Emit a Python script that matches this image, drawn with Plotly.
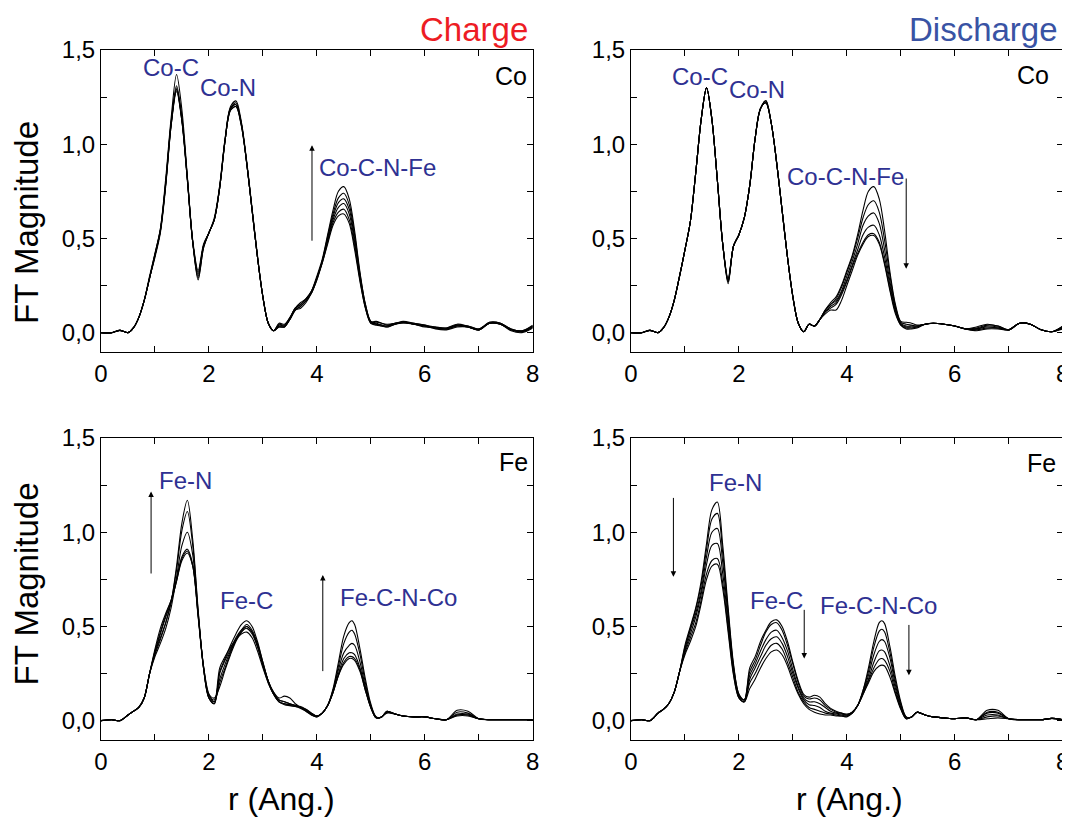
import plotly.graph_objects as go
from plotly.subplots import make_subplots

# ---------------- data ----------------
R_CO = [0.0, 0.2, 0.35, 0.5, 0.6, 0.7, 0.8, 0.9, 1.0, 1.1,
        1.2, 1.3, 1.4, 1.5, 1.6, 1.7, 1.8, 1.9, 2.0, 2.1,
        2.2, 2.3, 2.4, 2.5, 2.6, 2.7, 2.8, 2.9, 3.0, 3.1,
        3.2, 3.3, 3.4, 3.5, 3.6, 3.7, 3.8, 3.9, 4.0, 4.1,
        4.2, 4.3, 4.4, 4.5, 4.6, 4.7, 4.8, 4.9, 5.0, 5.1,
        5.2, 5.3, 5.45, 5.6, 5.8, 6.0, 6.2, 6.4, 6.6, 6.8, 7.0, 7.2, 7.4, 7.6, 7.8, 8.0]
R_FE = [0.0, 0.2, 0.35, 0.5, 0.6, 0.7, 0.8, 0.9, 1.0, 1.1,
        1.2, 1.3, 1.4, 1.5, 1.6, 1.7, 1.8, 1.9, 2.0, 2.1,
        2.2, 2.3, 2.4, 2.5, 2.6, 2.7, 2.8, 2.9, 3.0, 3.1,
        3.2, 3.3, 3.4, 3.5, 3.6, 3.7, 3.8, 3.9, 4.0, 4.1,
        4.2, 4.3, 4.4, 4.5, 4.6, 4.65, 4.7, 4.8, 4.9, 5.0, 5.1,
        5.2, 5.3, 5.45, 5.6, 5.8, 6.0, 6.2, 6.4, 6.6, 6.8, 7.0, 7.2, 7.4, 7.6, 7.8, 8.0]

# Co K-edge, charge
co_charge_1 = [0.0, 0.0, 0.012, 0.0, 0.025, 0.08, 0.17, 0.29, 0.40, 0.53,
               0.78, 1.10, 1.28, 1.12, 0.81, 0.48, 0.31, 0.46, 0.53, 0.60,
               0.77, 1.02, 1.18, 1.20, 1.10, 0.90, 0.65, 0.40, 0.19, 0.05,
               0.01, 0.035, 0.035, 0.07, 0.12, 0.14, 0.17, 0.21, 0.28, 0.37,
               0.47, 0.57, 0.62, 0.63, 0.58, 0.44, 0.27, 0.13, 0.05, 0.04,
               0.035, 0.03, 0.045, 0.055, 0.045, 0.035, 0.025, 0.02, 0.035, 0.03, 0.015, 0.05, 0.045, 0.015, 0.005, 0.03]
co_charge_2 = [0.0, 0.0, 0.012, 0.0, 0.025, 0.08, 0.17, 0.29, 0.41, 0.54,
               0.79, 1.10, 1.29, 1.12, 0.81, 0.48, 0.29, 0.45, 0.53, 0.60,
               0.77, 1.02, 1.18, 1.20, 1.10, 0.90, 0.65, 0.40, 0.19, 0.05,
               0.01, 0.03, 0.03, 0.075, 0.13, 0.15, 0.18, 0.22, 0.29, 0.37,
               0.48, 0.585, 0.64, 0.655, 0.60, 0.46, 0.28, 0.13, 0.05, 0.05,
               0.04, 0.035, 0.05, 0.055, 0.045, 0.035, 0.02, 0.015, 0.03, 0.03, 0.015, 0.05, 0.045, 0.01, 0.0, 0.025]
co_charge_3 = [0.0, 0.0, 0.012, 0.0, 0.025, 0.08, 0.17, 0.30, 0.42, 0.55,
               0.80, 1.11, 1.29, 1.13, 0.82, 0.49, 0.33, 0.47, 0.53, 0.61,
               0.78, 1.03, 1.19, 1.21, 1.11, 0.90, 0.65, 0.40, 0.19, 0.05,
               0.01, 0.04, 0.035, 0.07, 0.12, 0.13, 0.16, 0.21, 0.28, 0.38,
               0.49, 0.60, 0.665, 0.685, 0.63, 0.48, 0.29, 0.14, 0.055, 0.045,
               0.04, 0.03, 0.045, 0.05, 0.045, 0.03, 0.025, 0.02, 0.04, 0.03, 0.015, 0.05, 0.045, 0.015, 0.005, 0.03]
co_charge_4 = [0.0, 0.0, 0.012, 0.0, 0.025, 0.08, 0.17, 0.29, 0.41, 0.54,
               0.79, 1.11, 1.30, 1.13, 0.82, 0.48, 0.30, 0.46, 0.53, 0.60,
               0.77, 1.02, 1.19, 1.21, 1.11, 0.90, 0.65, 0.40, 0.19, 0.05,
               0.01, 0.045, 0.04, 0.08, 0.13, 0.15, 0.18, 0.22, 0.29, 0.38,
               0.50, 0.615, 0.69, 0.71, 0.655, 0.50, 0.30, 0.14, 0.055, 0.055,
               0.05, 0.04, 0.05, 0.055, 0.045, 0.035, 0.03, 0.025, 0.04, 0.035, 0.02, 0.05, 0.05, 0.02, 0.01, 0.035]
co_charge_5 = [0.0, 0.0, 0.012, 0.0, 0.025, 0.08, 0.17, 0.29, 0.41, 0.54,
               0.80, 1.12, 1.31, 1.14, 0.82, 0.48, 0.32, 0.46, 0.53, 0.60,
               0.77, 1.02, 1.19, 1.22, 1.11, 0.90, 0.65, 0.40, 0.19, 0.05,
               0.01, 0.03, 0.03, 0.07, 0.12, 0.14, 0.17, 0.21, 0.29, 0.38,
               0.51, 0.63, 0.715, 0.74, 0.68, 0.52, 0.31, 0.15, 0.06, 0.045,
               0.035, 0.035, 0.045, 0.055, 0.05, 0.04, 0.025, 0.02, 0.035, 0.03, 0.015, 0.055, 0.05, 0.015, 0.005, 0.035]
co_charge_6 = [0.0, 0.0, 0.012, 0.0, 0.025, 0.08, 0.17, 0.29, 0.42, 0.55,
               0.82, 1.14, 1.37, 1.18, 0.83, 0.48, 0.28, 0.45, 0.53, 0.60,
               0.78, 1.03, 1.20, 1.23, 1.12, 0.91, 0.66, 0.41, 0.19, 0.05,
               0.01, 0.05, 0.045, 0.08, 0.13, 0.16, 0.18, 0.22, 0.30, 0.39,
               0.52, 0.65, 0.75, 0.775, 0.71, 0.54, 0.32, 0.15, 0.06, 0.06,
               0.05, 0.045, 0.05, 0.06, 0.05, 0.04, 0.03, 0.025, 0.045, 0.035, 0.02, 0.055, 0.05, 0.02, 0.01, 0.04]

# Co K-edge, discharge
co_discharge_1 = [0.0, 0.0, 0.012, 0.0, 0.025, 0.08, 0.17, 0.30, 0.44, 0.59,
                  0.85, 1.13, 1.30, 1.13, 0.81, 0.47, 0.27, 0.46, 0.52, 0.61,
                  0.78, 1.03, 1.19, 1.22, 1.11, 0.90, 0.65, 0.40, 0.19, 0.05,
                  0.005, 0.045, 0.035, 0.07, 0.10, 0.12, 0.12, 0.17, 0.25, 0.33,
                  0.41, 0.47, 0.51, 0.515, 0.47, 0.36, 0.22, 0.10, 0.04, 0.02,
                  0.02, 0.025, 0.045, 0.05, 0.045, 0.035, 0.02, 0.01, 0.02, 0.02, 0.015, 0.05, 0.045, 0.015, 0.005, 0.02]
co_discharge_2 = [0.0, 0.0, 0.012, 0.0, 0.025, 0.08, 0.17, 0.30, 0.44, 0.59,
                  0.85, 1.13, 1.30, 1.13, 0.81, 0.47, 0.28, 0.46, 0.52, 0.61,
                  0.78, 1.03, 1.19, 1.22, 1.11, 0.90, 0.65, 0.40, 0.19, 0.05,
                  0.005, 0.045, 0.035, 0.07, 0.11, 0.13, 0.15, 0.20, 0.27, 0.35,
                  0.42, 0.48, 0.52, 0.525, 0.48, 0.37, 0.23, 0.11, 0.04, 0.025,
                  0.025, 0.03, 0.045, 0.05, 0.045, 0.035, 0.02, 0.015, 0.025, 0.025, 0.015, 0.05, 0.045, 0.015, 0.005, 0.025]
co_discharge_3 = [0.0, 0.0, 0.012, 0.0, 0.025, 0.08, 0.17, 0.30, 0.44, 0.59,
                  0.85, 1.13, 1.30, 1.13, 0.81, 0.47, 0.26, 0.46, 0.52, 0.61,
                  0.78, 1.03, 1.19, 1.22, 1.11, 0.90, 0.65, 0.40, 0.19, 0.05,
                  0.005, 0.045, 0.035, 0.07, 0.11, 0.14, 0.16, 0.21, 0.28, 0.36,
                  0.44, 0.52, 0.56, 0.57, 0.52, 0.40, 0.25, 0.12, 0.045, 0.03,
                  0.03, 0.03, 0.045, 0.05, 0.045, 0.035, 0.02, 0.02, 0.03, 0.025, 0.015, 0.05, 0.045, 0.015, 0.005, 0.03]
co_discharge_4 = [0.0, 0.0, 0.012, 0.0, 0.025, 0.08, 0.17, 0.30, 0.44, 0.59,
                  0.85, 1.13, 1.30, 1.13, 0.81, 0.47, 0.29, 0.46, 0.52, 0.61,
                  0.78, 1.03, 1.19, 1.23, 1.11, 0.90, 0.65, 0.40, 0.19, 0.05,
                  0.005, 0.045, 0.035, 0.07, 0.12, 0.15, 0.17, 0.22, 0.30, 0.38,
                  0.47, 0.57, 0.62, 0.635, 0.58, 0.44, 0.27, 0.13, 0.05, 0.035,
                  0.035, 0.035, 0.045, 0.05, 0.045, 0.035, 0.02, 0.02, 0.035, 0.03, 0.015, 0.05, 0.045, 0.015, 0.005, 0.03]
co_discharge_5 = [0.0, 0.0, 0.012, 0.0, 0.025, 0.08, 0.17, 0.30, 0.44, 0.59,
                  0.85, 1.13, 1.30, 1.13, 0.81, 0.47, 0.28, 0.46, 0.52, 0.61,
                  0.78, 1.03, 1.19, 1.22, 1.11, 0.90, 0.65, 0.40, 0.19, 0.05,
                  0.005, 0.045, 0.035, 0.07, 0.12, 0.15, 0.18, 0.24, 0.32, 0.40,
                  0.50, 0.61, 0.68, 0.70, 0.64, 0.49, 0.30, 0.14, 0.055, 0.045,
                  0.04, 0.035, 0.045, 0.05, 0.045, 0.035, 0.02, 0.025, 0.04, 0.035, 0.015, 0.05, 0.045, 0.015, 0.005, 0.035]
co_discharge_6 = [0.0, 0.0, 0.012, 0.0, 0.025, 0.08, 0.17, 0.30, 0.44, 0.59,
                  0.85, 1.13, 1.30, 1.13, 0.81, 0.47, 0.27, 0.46, 0.52, 0.61,
                  0.78, 1.03, 1.19, 1.23, 1.11, 0.90, 0.65, 0.40, 0.19, 0.05,
                  0.005, 0.045, 0.035, 0.07, 0.12, 0.16, 0.19, 0.25, 0.33, 0.41,
                  0.52, 0.65, 0.75, 0.775, 0.71, 0.54, 0.32, 0.15, 0.06, 0.055,
                  0.05, 0.04, 0.045, 0.05, 0.045, 0.035, 0.02, 0.03, 0.045, 0.035, 0.015, 0.05, 0.045, 0.015, 0.005, 0.035]

# Fe K-edge, charge
fe_charge_1 = [0.0, 0.005, 0.0, 0.03, 0.05, 0.07, 0.12, 0.25, 0.38, 0.49,
               0.57, 0.64, 0.74, 0.85, 0.89, 0.82, 0.56, 0.29, 0.14, 0.10,
               0.28, 0.34, 0.39, 0.43, 0.46, 0.47, 0.44, 0.37, 0.28, 0.20,
               0.14, 0.11, 0.10, 0.09, 0.08, 0.07, 0.055, 0.035, 0.025, 0.04,
               0.08, 0.15, 0.24, 0.30, 0.33, 0.33, 0.32, 0.26, 0.16, 0.07, 0.015,
               0.02, 0.04, 0.035, 0.025, 0.02, 0.02, 0.01, 0.005, 0.025, 0.025, 0.01, 0.005, 0.005, 0.005, 0.005, 0.005]
fe_charge_2 = [0.0, 0.005, 0.0, 0.03, 0.05, 0.07, 0.12, 0.25, 0.36, 0.46,
               0.55, 0.63, 0.74, 0.86, 0.90, 0.82, 0.55, 0.28, 0.13, 0.11,
               0.22, 0.30, 0.37, 0.43, 0.47, 0.49, 0.46, 0.39, 0.29, 0.20,
               0.14, 0.10, 0.09, 0.085, 0.08, 0.07, 0.06, 0.04, 0.025, 0.04,
               0.08, 0.15, 0.24, 0.31, 0.34, 0.34, 0.33, 0.27, 0.16, 0.07, 0.015,
               0.02, 0.045, 0.035, 0.025, 0.02, 0.02, 0.01, 0.005, 0.03, 0.03, 0.01, 0.005, 0.005, 0.005, 0.005, 0.005]
fe_charge_3 = [0.0, 0.005, 0.0, 0.03, 0.05, 0.07, 0.12, 0.25, 0.37, 0.47,
               0.56, 0.64, 0.75, 0.87, 0.91, 0.83, 0.56, 0.29, 0.14, 0.12,
               0.18, 0.27, 0.35, 0.42, 0.47, 0.50, 0.47, 0.40, 0.30, 0.21,
               0.14, 0.10, 0.09, 0.08, 0.075, 0.07, 0.055, 0.035, 0.025, 0.04,
               0.08, 0.15, 0.25, 0.33, 0.36, 0.36, 0.35, 0.28, 0.17, 0.07, 0.015,
               0.02, 0.045, 0.035, 0.025, 0.02, 0.02, 0.01, 0.005, 0.03, 0.03, 0.01, 0.005, 0.005, 0.005, 0.005, 0.005]
fe_charge_4 = [0.0, 0.005, 0.0, 0.03, 0.05, 0.07, 0.12, 0.25, 0.34, 0.41,
               0.49, 0.60, 0.76, 0.93, 1.00, 0.88, 0.57, 0.28, 0.12, 0.09,
               0.25, 0.32, 0.38, 0.44, 0.48, 0.50, 0.47, 0.40, 0.30, 0.21,
               0.15, 0.12, 0.13, 0.12, 0.09, 0.07, 0.05, 0.03, 0.02, 0.04,
               0.08, 0.16, 0.27, 0.36, 0.40, 0.41, 0.40, 0.31, 0.18, 0.08, 0.015,
               0.02, 0.05, 0.035, 0.025, 0.02, 0.02, 0.01, 0.005, 0.035, 0.035, 0.01, 0.005, 0.005, 0.005, 0.005, 0.005]
fe_charge_5 = [0.0, 0.005, 0.0, 0.03, 0.05, 0.07, 0.12, 0.25, 0.36, 0.44,
               0.52, 0.63, 0.80, 1.01, 1.11, 0.93, 0.58, 0.28, 0.12, 0.10,
               0.20, 0.28, 0.36, 0.43, 0.48, 0.51, 0.48, 0.41, 0.31, 0.21,
               0.15, 0.11, 0.10, 0.09, 0.08, 0.075, 0.06, 0.04, 0.025, 0.04,
               0.08, 0.16, 0.29, 0.41, 0.47, 0.48, 0.46, 0.35, 0.20, 0.08, 0.02,
               0.02, 0.05, 0.035, 0.025, 0.02, 0.02, 0.01, 0.005, 0.045, 0.04, 0.01, 0.005, 0.005, 0.005, 0.005, 0.005]
fe_charge_6 = [0.0, 0.005, 0.0, 0.03, 0.05, 0.07, 0.12, 0.25, 0.35, 0.43,
               0.52, 0.63, 0.82, 1.05, 1.17, 0.96, 0.59, 0.28, 0.12, 0.09,
               0.26, 0.33, 0.40, 0.46, 0.51, 0.53, 0.50, 0.42, 0.31, 0.21,
               0.14, 0.10, 0.085, 0.08, 0.075, 0.065, 0.05, 0.03, 0.02, 0.04,
               0.08, 0.17, 0.31, 0.45, 0.52, 0.53, 0.51, 0.38, 0.22, 0.09, 0.02,
               0.02, 0.05, 0.035, 0.025, 0.02, 0.02, 0.01, 0.005, 0.055, 0.05, 0.01, 0.005, 0.005, 0.005, 0.005, 0.005]

# Fe K-edge, discharge
fe_discharge_1 = [0.0, 0.005, 0.0, 0.04, 0.06, 0.09, 0.15, 0.26, 0.35, 0.42,
                  0.50, 0.62, 0.75, 0.82, 0.83, 0.70, 0.47, 0.24, 0.12, 0.10,
                  0.17, 0.22, 0.28, 0.33, 0.365, 0.375, 0.35, 0.29, 0.21, 0.14,
                  0.09, 0.06, 0.045, 0.035, 0.03, 0.03, 0.025, 0.025, 0.02, 0.04,
                  0.08, 0.14, 0.20, 0.26, 0.29, 0.295, 0.29, 0.23, 0.14, 0.06, 0.01,
                  0.02, 0.045, 0.03, 0.02, 0.015, 0.01, 0.015, 0.005, 0.01, 0.015, 0.01, 0.005, 0.005, 0.005, 0.012, 0.005]
fe_discharge_2 = [0.0, 0.005, 0.0, 0.04, 0.06, 0.09, 0.15, 0.26, 0.36, 0.44,
                  0.52, 0.64, 0.78, 0.85, 0.86, 0.73, 0.49, 0.25, 0.12, 0.10,
                  0.20, 0.25, 0.31, 0.36, 0.40, 0.41, 0.38, 0.31, 0.23, 0.15,
                  0.10, 0.07, 0.06, 0.05, 0.04, 0.035, 0.03, 0.025, 0.025, 0.04,
                  0.08, 0.14, 0.21, 0.28, 0.325, 0.33, 0.32, 0.26, 0.15, 0.065, 0.01,
                  0.02, 0.045, 0.03, 0.02, 0.015, 0.01, 0.015, 0.005, 0.02, 0.025, 0.01, 0.005, 0.005, 0.005, 0.012, 0.005]
fe_discharge_3 = [0.0, 0.005, 0.0, 0.04, 0.06, 0.09, 0.15, 0.26, 0.37, 0.46,
                  0.55, 0.67, 0.83, 0.93, 0.94, 0.78, 0.52, 0.27, 0.13, 0.10,
                  0.22, 0.28, 0.34, 0.40, 0.435, 0.445, 0.41, 0.34, 0.25, 0.17,
                  0.11, 0.085, 0.08, 0.07, 0.05, 0.04, 0.035, 0.03, 0.025, 0.04,
                  0.08, 0.15, 0.22, 0.31, 0.37, 0.375, 0.365, 0.29, 0.17, 0.07, 0.015,
                  0.02, 0.045, 0.03, 0.02, 0.015, 0.01, 0.015, 0.005, 0.03, 0.03, 0.01, 0.005, 0.005, 0.005, 0.012, 0.005]
fe_discharge_4 = [0.0, 0.005, 0.0, 0.04, 0.06, 0.09, 0.15, 0.26, 0.38, 0.48,
                  0.57, 0.69, 0.87, 1.00, 1.02, 0.84, 0.55, 0.28, 0.13, 0.11,
                  0.24, 0.30, 0.37, 0.43, 0.47, 0.48, 0.44, 0.37, 0.27, 0.18,
                  0.12, 0.10, 0.10, 0.09, 0.07, 0.05, 0.04, 0.035, 0.03, 0.045,
                  0.08, 0.15, 0.24, 0.35, 0.42, 0.43, 0.42, 0.33, 0.19, 0.08, 0.015,
                  0.02, 0.045, 0.03, 0.02, 0.015, 0.01, 0.015, 0.005, 0.04, 0.04, 0.01, 0.005, 0.005, 0.005, 0.012, 0.005]
fe_discharge_5 = [0.0, 0.005, 0.0, 0.04, 0.06, 0.09, 0.15, 0.26, 0.39, 0.49,
                  0.59, 0.72, 0.91, 1.07, 1.10, 0.89, 0.58, 0.29, 0.14, 0.11,
                  0.26, 0.32, 0.40, 0.47, 0.51, 0.52, 0.48, 0.40, 0.30, 0.20,
                  0.13, 0.115, 0.12, 0.11, 0.08, 0.06, 0.045, 0.04, 0.03, 0.045,
                  0.08, 0.16, 0.26, 0.39, 0.475, 0.485, 0.47, 0.36, 0.21, 0.09, 0.02,
                  0.02, 0.045, 0.03, 0.02, 0.015, 0.01, 0.015, 0.005, 0.045, 0.045, 0.01, 0.005, 0.005, 0.005, 0.012, 0.005]
fe_discharge_6 = [0.0, 0.005, 0.0, 0.04, 0.06, 0.09, 0.15, 0.26, 0.40, 0.50,
                  0.60, 0.74, 0.94, 1.12, 1.16, 0.93, 0.60, 0.30, 0.14, 0.11,
                  0.28, 0.34, 0.42, 0.48, 0.525, 0.535, 0.50, 0.42, 0.31, 0.21,
                  0.14, 0.125, 0.135, 0.125, 0.09, 0.065, 0.05, 0.04, 0.035, 0.045,
                  0.08, 0.16, 0.28, 0.42, 0.52, 0.53, 0.515, 0.39, 0.23, 0.10, 0.02,
                  0.02, 0.045, 0.03, 0.02, 0.015, 0.01, 0.015, 0.005, 0.055, 0.055, 0.01, 0.005, 0.005, 0.005, 0.012, 0.005]

X_TICKS = [0, 2, 4, 6, 8]
Y_TICKS = [0.0, 0.5, 1.0, 1.5]

# ---------------- figure ----------------
FONT = "Arial, 'Liberation Sans', sans-serif"
LABEL_BLUE = "#2e3192"
W, H = 1062, 810          # page has an 8 px body margin
OFF = 8

def px(p):   # page x pixel -> paper x
    return (p - OFF) / W

def py(p):   # page y pixel -> paper y
    return 1 - (p - OFF) / H

fig = make_subplots(rows=2, cols=2)

panels = [
    (1, 1, R_CO, [co_charge_1, co_charge_2, co_charge_3, co_charge_4, co_charge_5, co_charge_6]),
    (1, 2, R_CO, [co_discharge_1, co_discharge_2, co_discharge_3, co_discharge_4, co_discharge_5, co_discharge_6]),
    (2, 1, R_FE, [fe_charge_1, fe_charge_2, fe_charge_3, fe_charge_4, fe_charge_5, fe_charge_6]),
    (2, 2, R_FE, [fe_discharge_1, fe_discharge_2, fe_discharge_3, fe_discharge_4, fe_discharge_5, fe_discharge_6]),
]
for row, col, rr, curves in panels:
    for c in curves:
        fig.add_trace(go.Scatter(x=rr, y=c, mode="lines",
                                 line=dict(color="black", width=1.1, shape="spline", smoothing=0.9),
                                 showlegend=False, hoverinfo="skip"),
                      row=row, col=col)

xdom = [[px(101), px(532.7)], [px(631), px(1062.7)]]
ydom_top = [py(351.7), py(50)]
ydom_bot = [py(739.7), py(438)]

common = dict(showline=True, linecolor="black", linewidth=1, mirror="ticks",
              ticks="inside", ticklen=6, tickwidth=1, tickcolor="black",
              showgrid=False, zeroline=False, automargin=False,
              tickfont=dict(family=FONT, size=24, color="black"))

xa = dict(common, range=[0, 8], tickvals=X_TICKS, ticktext=[str(v) for v in X_TICKS],
          minor=dict(tickvals=[1, 3, 5, 7], ticks="inside", ticklen=6, tickcolor="black", tickwidth=1, showgrid=False))
ya = dict(common, range=[-0.101, 1.5], tickvals=Y_TICKS, ticktext=[f"{v:.1f}".replace(".", ",") for v in Y_TICKS],
          minor=dict(tickvals=[0.25, 0.75, 1.25], ticks="inside", ticklen=6, tickcolor="black", tickwidth=1, showgrid=False))

fig.update_layout(
    width=W, height=H, autosize=False,
    margin=dict(l=0, r=0, t=0, b=0, pad=0, autoexpand=False),
    paper_bgcolor="white", plot_bgcolor="white",
    showlegend=False,
    xaxis=dict(xa, domain=xdom[0], anchor="y"),
    yaxis=dict(ya, domain=ydom_top, anchor="x"),
    xaxis2=dict(xa, domain=xdom[1], anchor="y2"),
    yaxis2=dict(ya, domain=ydom_top, anchor="x2"),
    xaxis3=dict(xa, domain=xdom[0], anchor="y3"),
    yaxis3=dict(ya, domain=ydom_bot, anchor="x3"),
    xaxis4=dict(xa, domain=xdom[1], anchor="y4"),
    yaxis4=dict(ya, domain=ydom_bot, anchor="x4"),
)

ann = []

def label(text, x, y, ax_id, color=LABEL_BLUE, size=24):
    ann.append(dict(text=text, x=x, y=y, xref="x" + ax_id, yref="y" + ax_id,
                    showarrow=False, xanchor="center", yanchor="middle",
                    font=dict(family=FONT, size=size, color=color)))

def arrow(x, y0, y1, ax_id):
    # tail at y0, head at y1
    ann.append(dict(text="", x=x, y=y1, ax=x, ay=y0,
                    xref="x" + ax_id, yref="y" + ax_id,
                    axref="x" + ax_id, ayref="y" + ax_id,
                    showarrow=True, arrowhead=2, arrowsize=1.1, arrowwidth=1,
                    arrowcolor="black", standoff=0, startstandoff=0))

# top-left: Co, charge
label("Co-C", 1.30, 1.405, "")
label("Co-N", 2.36, 1.30, "")
label("Co-C-N-Fe", 5.12, 0.875, "")
label("Co", 7.60, 1.364, "", color="black", size=25)
arrow(3.91, 0.48, 0.995, "")
# top-right: Co, discharge
label("Co-C", 1.275, 1.36, "2")
label("Co-N", 2.34, 1.29, "2")
label("Co-C-N-Fe", 3.98, 0.83, "2")
label("Co", 7.45, 1.367, "2", color="black", size=25)
arrow(5.10, 0.826, 0.339, "2")
# bottom-left: Fe, charge
label("Fe-N", 1.575, 1.274, "3")
label("Fe-C", 2.70, 0.638, "3")
label("Fe-C-N-Co", 5.52, 0.653, "3")
label("Fe", 7.65, 1.371, "3", color="black", size=25)
arrow(0.928, 0.773, 1.216, "3")
arrow(4.11, 0.255, 0.773, "3")
# bottom-right: Fe, discharge
label("Fe-N", 1.93, 1.265, "4")
label("Fe-C", 2.69, 0.636, "4")
label("Fe-C-N-Co", 4.59, 0.61, "4")
label("Fe", 7.61, 1.367, "4", color="black", size=25)
arrow(0.786, 1.19, 0.764, "4")
arrow(3.21, 0.596, 0.33, "4")
arrow(5.15, 0.516, 0.241, "4")

# panel titles
ann.append(dict(text="Charge", x=px(530), y=py(30), xref="paper", yref="paper",
                showarrow=False, xanchor="right", yanchor="middle",
                font=dict(family=FONT, size=33, color="#ed1c24")))
ann.append(dict(text="Discharge", x=px(1060), y=py(30), xref="paper", yref="paper",
                showarrow=False, xanchor="right", yanchor="middle",
                font=dict(family=FONT, size=33, color="#3953a4")))
# axis titles
for yc in (223, 584.5):
    ann.append(dict(text="FT Magnitude", x=px(26), y=py(yc), xref="paper", yref="paper",
                    showarrow=False, xanchor="center", yanchor="middle", textangle=-90,
                    font=dict(family=FONT, size=33, color="black")))
for xc in (281, 849):
    ann.append(dict(text="r (Ang.)", x=px(xc), y=py(799), xref="paper", yref="paper",
                    showarrow=False, xanchor="center", yanchor="middle",
                    font=dict(family=FONT, size=32, color="black")))

fig.update_layout(annotations=ann)
fig.write_html("out.html")
